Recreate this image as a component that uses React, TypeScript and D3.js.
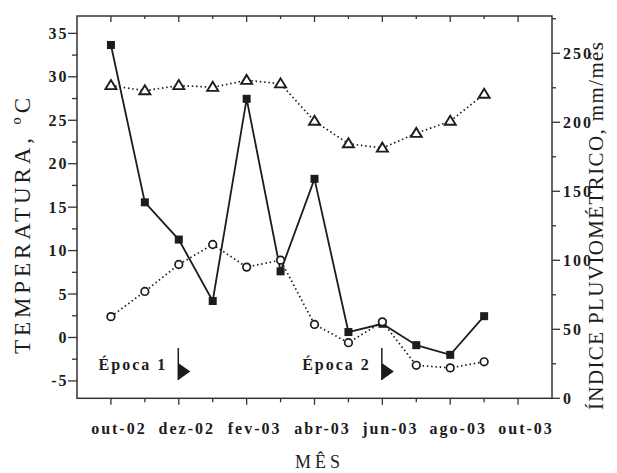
import React from "react";
import * as d3 from "d3";

// Month index 0 = out-02 ... 11 = set-03
const months = ["out-02", "nov-02", "dez-02", "jan-03", "fev-03", "mar-03", "abr-03", "mai-03", "jun-03", "jul-03", "ago-03", "set-03"];
const precipitation = [256, 142, 115, 70.5, 217, 92, 159, 48, 54, 38.5, 31.5, 59.5];
const tempMax = [29.0, 28.4, 29.0, 28.8, 29.6, 29.2, 24.9, 22.3, 21.8, 23.5, 24.9, 28.0];
const tempMin = [2.4, 5.3, 8.4, 10.7, 8.1, 8.9, 1.5, -0.6, 1.8, -3.2, -3.5, -2.8];

const xTickLabels = ["out-02", "dez-02", "fev-03", "abr-03", "jun-03", "ago-03", "out-03"];
const xTickIndex = [0, 2, 4, 6, 8, 10, 12];
const leftTicks = [-5, 0, 5, 10, 15, 20, 25, 30, 35];
const rightTicks = [0, 50, 100, 150, 200, 250];
const epochs = [
  { label: "Época 1", month: 2 },
  { label: "Época 2", month: 8 },
];

const W = 617, H = 473;
const L = 77, R = 552, T = 16, B = 398.3;
const INK = "#1c1c1c";
const AX = "#333";

export default function App() {
  const x = d3.scaleLinear().domain([-1, 13]).range([L, R]);
  const yL = d3.scaleLinear().domain([-7, 37]).range([B, T]);
  const yR = d3.scaleLinear().domain([0, 277]).range([B, T]);

  const idx = months.map((_, i) => i);
  const lineP = d3.line<number>().x((i) => x(i)).y((i) => yR(precipitation[i]));
  const lineMax = d3.line<number>().x((i) => x(i)).y((i) => yL(tempMax[i]));
  const lineMin = d3.line<number>().x((i) => x(i)).y((i) => yL(tempMin[i]));

  const monthTicks = d3.range(0, 13);
  const leftMinor = d3.range(-7.5, 37.5, 2.5).filter((v) => v >= -7 && v <= 37 && v % 5 !== 0);
  const rightMinor = d3.range(25, 277, 50);

  const serif = "'Liberation Serif', 'Times New Roman', serif";
  const tri = (cx: number, cy: number) => {
    const w = 11, h = 9;
    return `M${cx},${cy - h * 0.6}L${cx + w / 2},${cy + h * 0.4}L${cx - w / 2},${cy + h * 0.4}Z`;
  };

  return (
    <svg width={W} height={H} style={{ position: "absolute", left: 0, top: 0, background: "#fff" }} fontFamily={serif}>
      <rect x={0} y={0} width={W} height={H} fill="#fff" />
      {/* frame */}
      <rect x={L} y={T} width={R - L} height={B - T} fill="none" stroke={AX} strokeWidth={1.5} />

      {/* bottom and top month ticks */}
      {monthTicks.map((i) => {
        const major = i % 2 === 0;
        return (
          <g key={"mt" + i}>
            <line x1={x(i)} x2={x(i)} y1={B} y2={B + (major ? 6.5 : 4)} stroke={AX} strokeWidth={1.3} />
            <line x1={x(i)} x2={x(i)} y1={T} y2={T + (major ? 6 : 3)} stroke={AX} strokeWidth={1.3} />
          </g>
        );
      })}
      {xTickLabels.map((lab, k) => (
        <text key={"xl" + k} x={x(xTickIndex[k]) + 8} y={434} textAnchor="middle" fontSize={16} fontWeight="bold" letterSpacing={2} fill={INK}>
          {lab}
        </text>
      ))}

      {/* left axis ticks */}
      {leftTicks.map((v) => (
        <g key={"lt" + v}>
          <line x1={L - 9} x2={L} y1={yL(v)} y2={yL(v)} stroke={AX} strokeWidth={1.3} />
          <text x={68.5} y={yL(v) + 5.5} textAnchor="end" fontSize={16} fontWeight="bold" letterSpacing={2} fill={INK}>
            {v}
          </text>
        </g>
      ))}
      {leftMinor.map((v) => (
        <line key={"lm" + v} x1={L - 5} x2={L} y1={yL(v)} y2={yL(v)} stroke={AX} strokeWidth={1.3} />
      ))}

      {/* right axis ticks */}
      {rightTicks.map((v) => (
        <g key={"rt" + v}>
          <line x1={R} x2={R + 8} y1={yR(v)} y2={yR(v)} stroke={AX} strokeWidth={1.3} />
          <text x={563} y={yR(v) + 5.5} textAnchor="start" fontSize={16} fontWeight="bold" letterSpacing={2} fill={INK}>
            {v}
          </text>
        </g>
      ))}
      {rightMinor.map((v) => (
        <line key={"rm" + v} x1={R} x2={R + 4} y1={yR(v)} y2={yR(v)} stroke={AX} strokeWidth={1.3} />
      ))}

      {/* axis titles */}
      <text transform="translate(30,226) rotate(-90)" textAnchor="middle" fontSize={23} fill={INK} textLength={256} lengthAdjust="spacing">
        TEMPERATURA, ºC
      </text>
      <text transform="translate(603,226) rotate(-90)" textAnchor="middle" fontSize={21} fill={INK} textLength={368} lengthAdjust="spacing">
        ÍNDICE PLUVIOMÉTRICO, mm/mês
      </text>
      <text x={317.5} y={468} textAnchor="middle" fontSize={18} fill={INK} textLength={45} lengthAdjust="spacing">
        MÊS
      </text>

      {/* series lines */}
      <path d={lineP(idx) || ""} fill="none" stroke={INK} strokeWidth={1.8} />
      <path d={lineMax(idx) || ""} fill="none" stroke={INK} strokeWidth={1.7} strokeDasharray="1.5 2.8" />
      <path d={lineMin(idx) || ""} fill="none" stroke={INK} strokeWidth={1.7} strokeDasharray="1.5 2.8" />

      {/* markers */}
      {idx.map((i) => (
        <rect key={"sq" + i} x={x(i) - 4} y={yR(precipitation[i]) - 4} width={8} height={8} fill={INK} />
      ))}
      {idx.map((i) => (
        <path key={"tr" + i} d={tri(x(i), yL(tempMax[i]))} fill="#fff" stroke={INK} strokeWidth={1.9} strokeLinejoin="miter" />
      ))}
      {idx.map((i) => (
        <circle key={"ci" + i} cx={x(i)} cy={yL(tempMin[i])} r={3.8} fill="#fff" stroke={INK} strokeWidth={1.7} />
      ))}

      {/* epoch annotations */}
      {epochs.map((e) => {
        const ax = x(e.month) - 0.5;
        return (
          <g key={e.label}>
            <text x={ax - 11} y={370} textAnchor="end" fontSize={16} fontWeight="bold" letterSpacing={2} fill={INK}>
              {e.label}
            </text>
            <line x1={ax} x2={ax} y1={348} y2={380} stroke={INK} strokeWidth={1.5} />
            <path d={`M${ax},363L${ax + 12},371.5L${ax},380Z`} fill={INK} />
          </g>
        );
      })}
    </svg>
  );
}
